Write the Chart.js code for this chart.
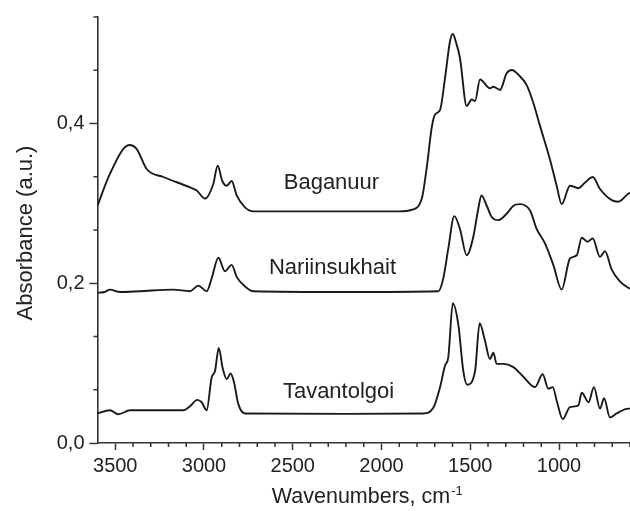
<!DOCTYPE html>
<html>
<head>
<meta charset="utf-8">
<script src="https://cdn.jsdelivr.net/npm/chart.js@4"></script>
<style>
  html, body { margin: 0; padding: 0; background: #fff; }
  #contenedor { width: 630px; height: 511px; }
</style>
</head>
<body>
<div id="contenedor"><canvas id="ftirChart"></canvas></div>
<script>
// Espectros FTIR de los tres carbones
const nombres = ['Baganuur', 'Nariinsukhait', 'Tavantolgoi'];

// Baganuur
const baganuurOnda = [3600, 3530, 3421, 3379, 3323, 3229, 3079, 3041, 2994, 2948, 2923, 2897, 2872, 2844, 2816, 2769, 2722,
    2300, 1900, 1830, 1773, 1745, 1717, 1699, 1670, 1642, 1614, 1598, 1582, 1558, 1520, 1492, 1473, 1445, 1389, 1370, 1332,
    1295, 1266, 1220, 1182, 1145, 1107, 1051, 1013, 985, 938, 891, 853, 810, 769, 703, 666, 610, 600];
const baganuurAbs = [0.297, 0.337, 0.373, 0.368, 0.343, 0.333, 0.320, 0.316, 0.306, 0.324, 0.347, 0.328, 0.322, 0.328, 0.310, 0.295, 0.290,
    0.290, 0.290, 0.292, 0.306, 0.345, 0.395, 0.411, 0.417, 0.457, 0.503, 0.512, 0.503, 0.482, 0.422, 0.430, 0.428, 0.455, 0.444, 0.446, 0.442,
    0.463, 0.467, 0.459, 0.448, 0.426, 0.397, 0.355, 0.322, 0.299, 0.322, 0.319, 0.326, 0.333, 0.318, 0.304, 0.302, 0.312, 0.313];

// Nariinsukhait
const nariinOnda = [3600, 3560, 3530, 3473, 3361, 3173, 3079, 3032, 2985, 2957, 2919, 2882, 2844, 2816, 2769, 2722,
    2200, 1680, 1652, 1624, 1590, 1558, 1520, 1483, 1455, 1437, 1407, 1379, 1342, 1295, 1257, 1220, 1163, 1126,
    1079, 1032, 985, 938, 900, 872, 840, 810, 769, 741, 703, 656, 600];
const nariinAbs = [0.188, 0.189, 0.192, 0.189, 0.190, 0.192, 0.190, 0.197, 0.190, 0.206, 0.232, 0.215, 0.223, 0.208, 0.196, 0.190,
    0.189, 0.190, 0.206, 0.243, 0.284, 0.268, 0.235, 0.258, 0.293, 0.310, 0.297, 0.283, 0.279, 0.287, 0.297, 0.299, 0.291, 0.268,
    0.250, 0.223, 0.192, 0.231, 0.235, 0.257, 0.252, 0.256, 0.233, 0.240, 0.217, 0.202, 0.193];

// Tavantolgoi
const tavanOnda = [3600, 3530, 3483, 3417, 3266, 3117, 3079, 3038, 3013, 2985, 2957, 2938, 2917, 2895, 2872, 2850, 2831, 2807, 2769,
    2200, 1765, 1708, 1670, 1642, 1624, 1598, 1567, 1539, 1517, 1473, 1447, 1417, 1389, 1370, 1351, 1314, 1257, 1201,
    1135, 1092, 1060, 1035, 1013, 979, 938, 891, 872, 834, 803, 769, 746, 713, 675, 610, 600];
const tavanAbs = [0.037, 0.041, 0.036, 0.041, 0.041, 0.041, 0.046, 0.054, 0.051, 0.041, 0.082, 0.090, 0.119, 0.094, 0.080, 0.087, 0.076, 0.049, 0.037,
    0.0365, 0.037, 0.044, 0.070, 0.097, 0.107, 0.175, 0.148, 0.090, 0.073, 0.090, 0.150, 0.128, 0.105, 0.113, 0.099, 0.099, 0.095, 0.083,
    0.070, 0.086, 0.068, 0.070, 0.053, 0.030, 0.045, 0.047, 0.063, 0.051, 0.070, 0.043, 0.056, 0.032, 0.037, 0.043, 0.043];

// Marcas con etiqueta
const ticksX = [3500, 3000, 2500, 2000, 1500, 1000];
const ticksY = [0.0, 0.2, 0.4];

// Donde va el nombre de cada espectro (en unidades de los ejes)
const posicionNombres = [
    { x: 2282, y: 0.318 },
    { x: 2276, y: 0.211 },
    { x: 2242, y: 0.056 }
];

const fuente = "'Liberation Sans', Arial, sans-serif";
const colorTexto = '#222';
const colorEje = '#333';

function unirPuntos(onda, abs) {
    return onda.map((v, i) => ({ x: v, y: abs[i] }));
}

// Marcas menores, nombres de los espectros y titulos de los ejes
const extrasGrafico = {
    id: 'extrasGrafico',
    afterDraw(chart) {
        const ctx = chart.ctx;
        const ejeX = chart.scales.x;
        const ejeY = chart.scales.y;
        const area = chart.chartArea;
        ctx.save();

        ctx.strokeStyle = colorEje;
        ctx.lineWidth = 1.5;
        ctx.beginPath();
        for (let v = 600; v < 3600; v += 100) {
            if (v % 500 === 0) continue;
            const px = ejeX.getPixelForValue(v);
            ctx.moveTo(px, area.bottom);
            ctx.lineTo(px, area.bottom + 4);
        }
        for (let i = 1; i <= 8; i++) {
            if (i % 3 === 0) continue;
            const py = ejeY.getPixelForValue(i * 0.2 / 3);
            ctx.moveTo(area.left, py);
            ctx.lineTo(area.left - 4, py);
        }
        ctx.stroke();

        ctx.fillStyle = colorTexto;
        ctx.font = '22px ' + fuente;
        ctx.textAlign = 'center';
        ctx.textBaseline = 'alphabetic';
        nombres.forEach((nombre, i) => {
            const p = posicionNombres[i];
            ctx.fillText(nombre, ejeX.getPixelForValue(p.x), ejeY.getPixelForValue(p.y));
        });

        // titulo del eje X con superindice
        ctx.font = '21.5px ' + fuente;
        const base = 'Wavenumbers, cm';
        const anchoBase = ctx.measureText(base).width;
        ctx.font = '13px ' + fuente;
        const sup = '-1';
        const anchoSup = ctx.measureText(sup).width;
        const centroX = (area.left + area.right) / 2 + 3;
        const inicio = centroX - (anchoBase + anchoSup) / 2;
        ctx.textAlign = 'left';
        ctx.font = '21.5px ' + fuente;
        ctx.fillText(base, inicio, 503);
        ctx.font = '13px ' + fuente;
        ctx.fillText(sup, inicio + anchoBase + 1, 495);

        // titulo del eje Y
        ctx.translate(32, 233);
        ctx.rotate(-Math.PI / 2);
        ctx.textAlign = 'center';
        ctx.font = '22px ' + fuente;
        ctx.fillText('Absorbance (a.u.)', 0, 0);

        ctx.restore();
    }
};

function inicializarGraficoFTIR() {
    const ctx = document.getElementById('ftirChart').getContext('2d');
    const series = [
        unirPuntos(baganuurOnda, baganuurAbs),
        unirPuntos(nariinOnda, nariinAbs),
        unirPuntos(tavanOnda, tavanAbs)
    ];

    new Chart(ctx, {
        type: 'line',
        data: {
            datasets: series.map((datos, i) => ({
                label: nombres[i],
                data: datos,
                borderColor: '#1a1a1a',
                borderWidth: 1.9,
                pointRadius: 0,
                fill: false,
                cubicInterpolationMode: 'monotone'
            }))
        },
        options: {
            responsive: true,
            maintainAspectRatio: false,
            animation: false,
            layout: { padding: { top: 14, right: 0, left: 0, bottom: 0 } },
            plugins: {
                legend: { display: false },
                tooltip: { enabled: false }
            },
            scales: {
                x: {
                    type: 'linear',
                    reverse: true,
                    min: 600,
                    max: 3600,
                    afterBuildTicks: scale => { scale.ticks = ticksX.map(v => ({ value: v })); },
                    afterFit: scale => { scale.height = 68; },
                    ticks: {
                        autoSkip: false,
                        maxRotation: 0,
                        padding: 4,
                        color: colorTexto,
                        font: { family: fuente, size: 20 },
                        callback: v => String(v)
                    },
                    grid: { drawOnChartArea: false, tickLength: 7, tickColor: colorEje, tickWidth: 1.5 },
                    border: { color: colorEje, width: 1.6 }
                },
                y: {
                    min: 0,
                    max: 0.5333,
                    afterBuildTicks: scale => { scale.ticks = ticksY.map(v => ({ value: v })); },
                    afterFit: scale => { scale.width = 97.5; },
                    ticks: {
                        padding: 5,
                        color: colorTexto,
                        font: { family: fuente, size: 20 },
                        callback: v => v.toFixed(1).replace('.', ',')
                    },
                    grid: { drawOnChartArea: false, tickLength: 8, tickColor: colorEje, tickWidth: 1.5 },
                    border: { color: colorEje, width: 1.6 }
                }
            }
        },
        plugins: [extrasGrafico]
    });
}

document.addEventListener('DOMContentLoaded', () => {
    inicializarGraficoFTIR();
});
</script>
</body>
</html>
